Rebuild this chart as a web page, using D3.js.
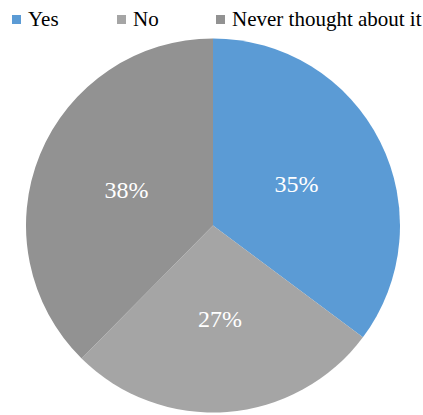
<!DOCTYPE html>
<html><head><meta charset="utf-8">
<script src="https://cdn.jsdelivr.net/npm/d3@7"></script>
<style>body{margin:0;background:#fff}</style>
</head><body>
<svg id="c" width="423" height="415"></svg>
<script>
const categories = ["Yes", "No", "Never thought about it"];
const values = [35.2, 27.2, 37.6];
const colors = ["#5B9BD5", "#A5A5A5", "#929292"];

const FONT = '"Liberation Serif"';
const svg = d3.select("#c");
const cx = 213, cy = 225.5, r = 187;
const total = d3.sum(values);
const pie = d3.pie().sort(null).value(d => d)(values);
const arc = d3.arc().innerRadius(0).outerRadius(r);
const g = svg.append("g").attr("transform", `translate(${cx},${cy})`);
g.selectAll("path").data(pie).enter().append("path")
  .attr("d", arc).attr("fill", (d, i) => colors[i]);
const fmt = d3.format(".0%");
g.selectAll("text").data(pie).enter().append("text")
  .attr("transform", d => `translate(${arc.centroid(d)})`)
  .attr("text-anchor", "middle").attr("dy", "0.35em")
  .style("font-family", FONT)
  .attr("font-size", 24).attr("fill", "#fff")
  .text(d => fmt(d.data / total));

const legX = [12, 117, 216];
const lg = svg.append("g");
categories.forEach((c, i) => {
  lg.append("rect").attr("x", legX[i]).attr("y", 15).attr("width", 9).attr("height", 9).attr("fill", colors[i]);
  lg.append("text").attr("x", legX[i] + 16).attr("y", 26)
    .style("font-family", FONT)
    .attr("font-size", 21).attr("fill", "#000").text(c);
});
</script>
</body></html>
